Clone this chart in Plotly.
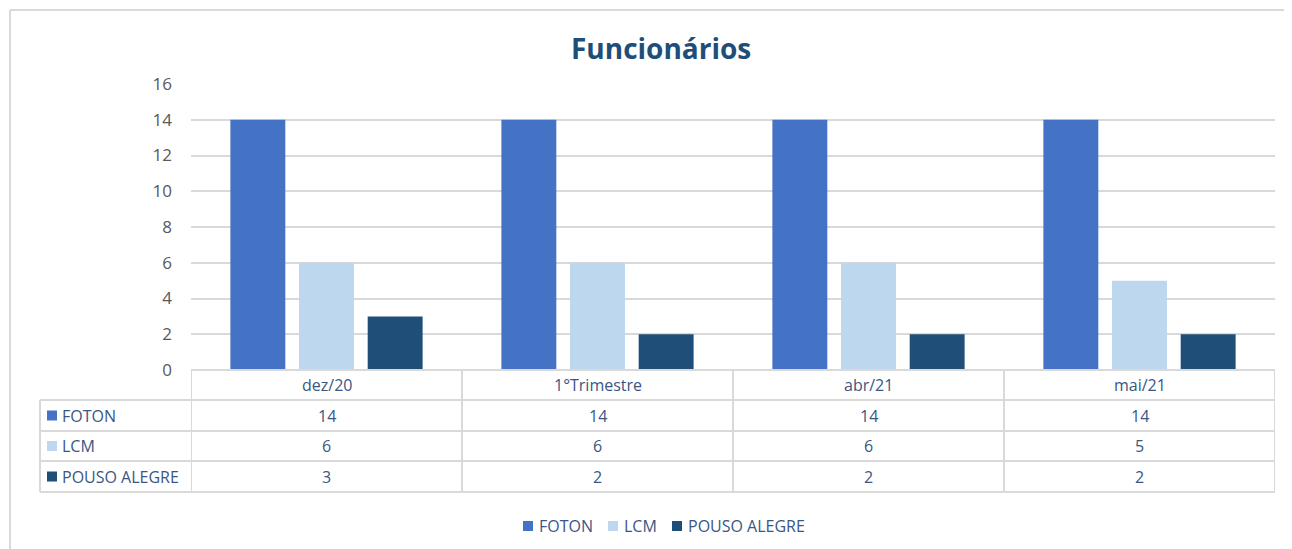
import plotly.graph_objects as go

categories = ["dez/20", "1°Trimestre", "abr/21", "mai/21"]
foton = [14, 14, 14, 14]
lcm = [6, 6, 6, 5]
pouso_alegre = [3, 2, 2, 2]
series_names = ["FOTON", "LCM", "POUSO ALEGRE"]
series_values = [foton, lcm, pouso_alegre]
series_colors = ["#4472C4", "#BDD7EE", "#1F4E79"]
y_ticks = [0, 2, 4, 6, 8, 10, 12, 14, 16]

OFF = 8  # page body margin
W, H = 1292 - OFF, 549 - OFF
PL, PR, PT, PB = 191, 1275, 84, 370  # plot area in page pixels
FONT = "Open Sans"
TXT = "#3A5683"
GRID = "#D9D9D9"


def py(p):
    return (PB - p) / (PB - PT)


def px(p):
    return (p - PL) / (PR - PL)


fig = go.Figure()
for name, vals, col in zip(series_names, series_values, series_colors):
    fig.add_trace(go.Bar(name=name, x=categories, y=vals, marker=dict(color=col, line=dict(width=0)),
                         showlegend=False))

shapes = []
annotations = []

row_edges = [370, 400, 431, 461, 492]
n = len(categories)

shapes.append(dict(type="line", xref="x", yref="paper", x0=-0.5, x1=n - 0.5, y0=py(row_edges[0]), y1=py(row_edges[0]),
                   line=dict(color=GRID, width=2)))
for r in row_edges[1:]:
    shapes.append(dict(type="line", xref="paper", yref="paper", x0=px(40), x1=1, y0=py(r), y1=py(r),
                       line=dict(color=GRID, width=2)))
for k in range(n + 1):
    shapes.append(dict(type="line", xref="x", yref="paper", x0=k - 0.5, x1=k - 0.5, y0=py(row_edges[0]), y1=py(row_edges[-1]),
                       line=dict(color=GRID, width=2)))
shapes.append(dict(type="line", xref="paper", yref="paper", x0=px(40), x1=px(40), y0=py(row_edges[1]), y1=py(row_edges[-1]),
                   line=dict(color=GRID, width=2)))

tfont = dict(family=FONT, size=16, color=TXT)
for j, c in enumerate(categories):
    annotations.append(dict(x=j, y=py((row_edges[0] + row_edges[1]) / 2), xref="x", yref="paper", text=c,
                            showarrow=False, font=tfont, xanchor="center", yanchor="middle"))
for i, (name, vals, col) in enumerate(zip(series_names, series_values, series_colors)):
    yc = (row_edges[i + 1] + row_edges[i + 2]) / 2
    shapes.append(dict(type="rect", xref="paper", yref="paper", x0=px(47), x1=px(57), y0=py(yc - 5), y1=py(yc + 5),
                       fillcolor=col, line=dict(width=0)))
    annotations.append(dict(x=px(60), y=py(yc), xref="paper", yref="paper", text=name, showarrow=False,
                            font=tfont, xanchor="left", yanchor="middle"))
    for j, v in enumerate(vals):
        annotations.append(dict(x=j, y=py(yc), xref="x", yref="paper", text=str(v), showarrow=False,
                                font=tfont, xanchor="center", yanchor="middle"))

# bottom legend (drawn manually)
leg_y = 526
leg_sq = [523, 608, 672]
for name, col, sx in zip(series_names, series_colors, leg_sq):
    shapes.append(dict(type="rect", xref="paper", yref="paper", x0=px(sx), x1=px(sx + 10), y0=py(leg_y - 5),
                       y1=py(leg_y + 5), fillcolor=col, line=dict(width=0)))
    annotations.append(dict(x=px(sx + 14), y=py(leg_y), xref="paper", yref="paper", text=name, showarrow=False,
                            font=tfont, xanchor="left", yanchor="middle"))

# outer chart frame (top and left edges)
shapes.append(dict(type="line", xref="paper", yref="paper", x0=px(10), x1=px(1300), y0=py(10), y1=py(10),
                   line=dict(color="#D9D9D9", width=2)))
shapes.append(dict(type="line", xref="paper", yref="paper", x0=px(10), x1=px(10), y0=py(10), y1=py(560),
                   line=dict(color="#D9D9D9", width=2)))

annotations.append(dict(x=px(661), y=py(48), xref="paper", yref="paper", text="<b>Funcionários</b>", showarrow=False,
                        font=dict(family=FONT, size=28, color="#1F4E79"), xanchor="center", yanchor="middle"))

fig.update_layout(
    width=W, height=H,
    margin=dict(l=PL - OFF, r=(W + OFF) - PR, t=PT - OFF, b=(H + OFF) - PB, pad=0),
    paper_bgcolor="white", plot_bgcolor="white",
    barmode="group", bargap=0.24, bargroupgap=0.2,
    showlegend=False,
    xaxis=dict(range=[-0.5, n - 0.5], showticklabels=False, showgrid=False, zeroline=False, showline=False, ticks=""),
    yaxis=dict(range=[0, 16], tickvals=y_ticks, showgrid=True, gridcolor=GRID, gridwidth=2, zeroline=False,
               showline=False, ticks="", ticklabelstandoff=18,
               tickfont=dict(family=FONT, size=17, color="#595959")),
    shapes=shapes, annotations=annotations,
    font=dict(family=FONT),
)

fig.write_html("out.html")
